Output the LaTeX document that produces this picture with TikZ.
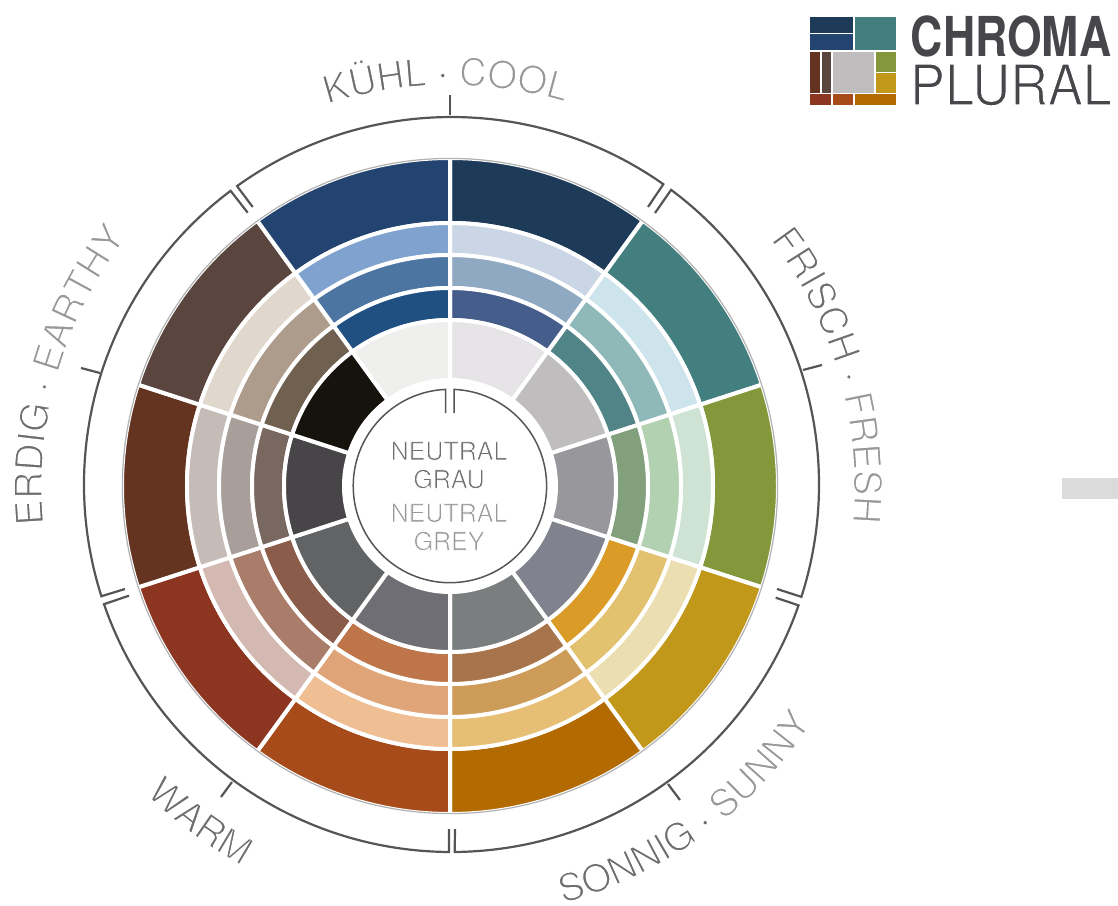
\documentclass[tikz,border=0pt]{standalone}
\usepackage{fontspec}
\usepackage{xcolor}
\setmainfont{TeX Gyre Heros}
\usetikzlibrary{decorations.text}

\definecolor{linegrey}{HTML}{555555}
\definecolor{labeldark}{HTML}{6E6E6E}
\definecolor{labellight}{HTML}{989898}
\definecolor{logotext}{HTML}{47464A}

% white outline on the glyphs, for the light weight of the labels
\newcommand{\thinglyphs}[1]{\special{pdf:code 2 Tr 1 1 1 RG #1 w}}
\newcommand{\labeldark}{\fontsize{38}{38}\selectfont\color{labeldark}\thinglyphs{1.2}}
\newcommand{\labellight}{\fontsize{38}{38}\selectfont\color{labellight}\thinglyphs{1.2}}
\newcommand{\labeldot}{\fontsize{38}{38}\selectfont\color{labeldark}\thinglyphs{.1}}

\tikzset{
    segment/.style={draw=white,line width=4pt,fill=#1},
    bracket/.style={draw=linegrey,line width=2.2pt},
    arclabel/.style={decorate,decoration={text along path,text align=center,text={#1}}},
    centretext/.style={font=\fontsize{25}{25}\selectfont},
}

\begin{document}
\begin{tikzpicture}[x=1pt,y=1pt]
    \useasboundingbox (-450,-419) rectangle (668,486);

    % outer ring to inner ring, clockwise from the top
    \foreach \ro/\ri/\cols in {
        328/263/{1D3B58,447F7F,84983B,C2981A,B36A00,A64B19,8C3521,643420,5A463E,234470},
        263/231/{CAD6E5,CEE4EC,CEE3D3,EBDFB2,E6BF74,EFBE93,D3B9B1,C6BCB7,E0D8CC,7FA2CF},
        231/198/{8FA9C3,8FB9B9,B2D1B1,E2C26F,CC9C58,DFA478,AA7D6A,A89F9B,AD9C8C,4C75A2},
        198/166/{445D8B,518486,82A07C,DA9C27,A8744C,BE754A,8C5C4A,796860,70604F,205082},
        166/106/{E6E4E7,BFBDBE,98979C,80838D,7A7E7E,6F6E74,626365,474547,16130D,EFEFED}}{
        \foreach \c [count=\i from 0] in \cols {
            \definecolor{segcol}{HTML}{\c}
            \pgfmathsetmacro{\a}{90-36*\i}
            \pgfmathsetmacro{\b}{\a-36}
            \path[segment=segcol] (\a:\ri) -- (\a:\ro) arc[start angle=\a,end angle=\b,radius=\ro] -- (\b:\ri) arc[start angle=\b,end angle=\a,radius=\ri] -- cycle;
        }
    }
    \draw[line width=1.2pt,color=black!30] (0,0) circle (327.6);

    % brackets around the wheel
    \foreach \p/\a/\b/\q in {
        {(-197.3,279)}/125.7/54.8/{(198,279)},
        {(205,273)}/53.3/-17.8/{(327,-103)},
        {(325.7,-111.7)}/-19.2/-89.5/{(5,-343)},
        {(-1,-343)}/-90.4/-161/{(-321,-109.7)},
        {(-325,-103)}/-162.3/-233.05/{(-202.3,273.3)}}{
        \draw[bracket] \p -- ([shift={(1.5,1.5)}]\a:367.5) arc[start angle=\a,end angle=\b,radius=367.5] -- \q;
    }
    \draw[bracket] (0,371) -- (0,391);
    \draw[bracket] (353,116) -- (372,121);
    \draw[bracket] (218,-298) -- (230,-314);
    \draw[bracket] (-218,-296) -- (-229,-311);
    \draw[bracket] (-350,113) -- (-369,118);

    % labels on the brackets
    \path[arclabel={|\labeldark|KÜHL |\labeldot|· |\labellight|COOL}] (135.6:401) arc[start angle=135.6,end angle=45.6,radius=401];
    \path[arclabel={|\labeldark|FRISCH |\labeldot|· |\labellight|FRESH}] (61.2:404) arc[start angle=61.2,end angle=-28.8,radius=404];
    \path[arclabel={|\labeldark|SONNIG |\labeldot|· |\labellight|SUNNY}] (-99:432) arc[start angle=-99,end angle=-9,radius=432];
    \path[arclabel={|\labeldark|WARM}] (203.3:433) arc[start angle=203.3,end angle=263.3,radius=433];
    \path[arclabel={|\labeldark|ERDIG |\labeldot|· |\labellight|EARTHY}] (208.9:408) arc[start angle=208.9,end angle=118.9,radius=408];

    % centre
    \draw[linegrey,line width=1.5pt] (-4.3,73) -- (-4.3,96.6) arc[start angle=92.5,end angle=447.5,radius=96.7] -- (4,73);
    \node[centretext,text=labeldark] (neutral) at (-1,35) {\thinglyphs{.7}NEUTRAL};
    \node[centretext,text=labeldark] (grau) at (-1,7) {\thinglyphs{.7}GRAU};
    \node[centretext,text=labellight] (neutralen) at (-1,-27) {\thinglyphs{.7}NEUTRAL};
    \node[centretext,text=labellight] (grey) at (-1,-55) {\thinglyphs{.7}GREY};

    % logo
    \foreach \xa/\ya/\xb/\yb/\c in {
        810/17/853/33/1D3B58, 810/34.5/853/50/234470, 854.5/17/896/50/447F7F,
        810/52/820/93/643420, 822/52/831/93/5A463E, 832.5/52/874/93/BFBDBE,
        875.5/52/896/72/84983B, 875.5/73.5/896/93/C2981A,
        810/94.5/831/105/8C3521, 832.5/94.5/853/105/A64B19, 854.5/94.5/896/105/B36A00}{
        \definecolor{logocol}{HTML}{\c}
        \fill[logocol] (\xa-450,486-\ya) rectangle (\xb-450,486-\yb);
    }
    \node[font=\fontsize{55}{55}\selectfont\bfseries,text=logotext,xscale=.81] (chroma) at (561,449.5) {CHROMA};
    \node[font=\fontsize{56}{56}\selectfont,text=logotext,xscale=.935] (plural) at (561,401) {\thinglyphs{1.2}PLURAL};

    \fill[fill=black!14] (612,8) rectangle (668,-13);
\end{tikzpicture}
\end{document}
